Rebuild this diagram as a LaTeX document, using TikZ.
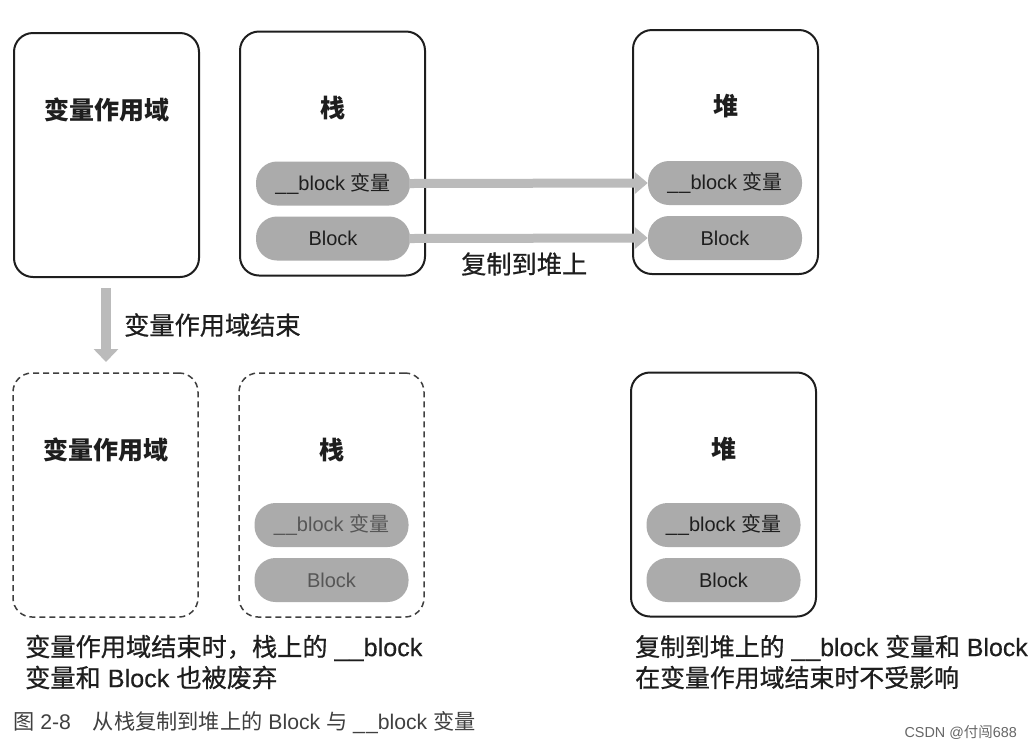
\documentclass[tikz,border=0pt]{standalone}
\usepackage{fontspec}
\setmainfont{Liberation Sans}
\newfontfamily\cjk{Noto Sans CJK SC}
\newfontfamily\cjkm[RawFeature={embolden=0.7}]{Noto Sans CJK SC}
\newfontfamily\latm[RawFeature={embolden=0.4}]{Liberation Sans}
\usetikzlibrary{arrows.meta}
\definecolor{ink}{HTML}{1E1E1E}
\definecolor{pillgray}{HTML}{ABABAB}
\definecolor{flowgray}{HTML}{BBBBBB}
\tikzset{
  panel/.style={draw=ink,line width=2pt,rounded corners=19pt,minimum width=185pt,minimum height=244pt,inner sep=0pt,fill=white},
  gonepanel/.style={panel,draw=ink!85,line width=1.5pt,dash pattern=on 6pt off 4pt},
  pill/.style={fill=pillgray,rounded corners=21pt,minimum width=154pt,minimum height=44pt,inner sep=0pt,text=ink,font=\fontsize{20pt}{20pt}\selectfont},
  gonepill/.style={pill,text=ink!75},
  head/.style={text=ink,font=\fontsize{25pt}{25pt}\selectfont\cjk\bfseries,inner sep=0pt},
  lab/.style={text=ink,font=\fontsize{25.2pt}{25.2pt}\selectfont\cjkm,inner sep=0pt,anchor=west},
  latinlab/.style={text=ink,font=\fontsize{25.2pt}{31pt}\selectfont\latm,inner sep=0pt,anchor=west,align=left},
  flow/.style={draw=flowgray,line width=9pt,-{Triangle[length=13pt,width=21pt,fill=flowgray]},shorten <=-1pt},
}
\newcommand{\zh}[1]{{\cjk #1}}
\newcommand{\zm}[1]{{\cjkm #1}}
\begin{document}
\begin{tikzpicture}[x=1pt,y=-1pt]
\useasboundingbox (0,0) rectangle (1032,748);
\fill[white] (0,0) rectangle (1032,748);
% top row
\node[panel] (scopeA) at (106.5,155) {};
\node[panel] (stackA) at (332.5,153.5) {};
\node[panel] (heapA) at (725.5,152) {};
\node[head] (scopeAt) at (106.5,110) {变量作用域};
\node[head] (stackAt) at (333,108) {栈};
\node[head] (heapAt) at (725.5,106) {堆};
\node[pill] (varA) at (333,183.5) {\_\kern1pt\_block \zh{变量}};
\node[pill] (blkA) at (333,238.5) {Block};
\node[pill] (varB) at (725,183) {\_\kern1pt\_block \zh{变量}};
\node[pill] (blkB) at (725,238) {Block};
\draw[flow] (varA.east) -- (varB.west);
\draw[flow] (blkA.east) -- (blkB.west);
\node[lab] (copy) at (461,264) {复制到堆上};
% transition
\coordinate (endTop) at (106,288);
\coordinate (endBot) at (106,362);
\draw[draw=flowgray,line width=10pt,-{Triangle[length=13pt,width=24pt,fill=flowgray]}] (endTop) -- (endBot);
\node[lab] (endLab) at (124,325) {变量作用域结束};
% bottom row
\node[gonepanel] (scopeC) at (105.5,495) {};
\node[gonepanel] (stackC) at (331.5,495) {};
\node[panel] (heapC) at (723.5,494.5) {};
\node[head] (scopeCt) at (106,450) {变量作用域};
\node[head] (stackCt) at (332,450) {栈};
\node[head] (heapCt) at (724,449) {堆};
\node[gonepill] (varC) at (331.5,525) {\_\kern1pt\_block \zh{变量}};
\node[gonepill] (blkC) at (331.5,580) {Block};
\node[pill] (varD) at (723.5,525) {\_\kern1pt\_block \zh{变量}};
\node[pill] (blkD) at (723.5,580) {Block};
% captions
\node[latinlab] (capL) at (25,662) {\zm{变量作用域结束时，栈上的} \_\kern1pt\_block\\\zm{变量和} Block \zm{也被废弃}};
\node[latinlab,font=\fontsize{24.9pt}{31pt}\selectfont\latm] (capR) at (635,662) {\zm{复制到堆上的} \_\kern1pt\_block \zm{变量和} Block\\\zm{在变量作用域结束时不受影响}};
\node[text=ink!85,font=\fontsize{21.2pt}{21pt}\selectfont,inner sep=0pt,anchor=west] (fig) at (13,723) {\zh{图} 2-8\hspace{22pt}\zh{从栈复制到堆上的} Block \zh{与} \_\kern1pt\_block \zh{变量}};
\node[text=black!60,font=\fontsize{14.4pt}{14.4pt}\selectfont,inner sep=0pt,anchor=east] (mark) at (1017,732) {CSDN @\zh{付闯}688};
\end{tikzpicture}
\end{document}
